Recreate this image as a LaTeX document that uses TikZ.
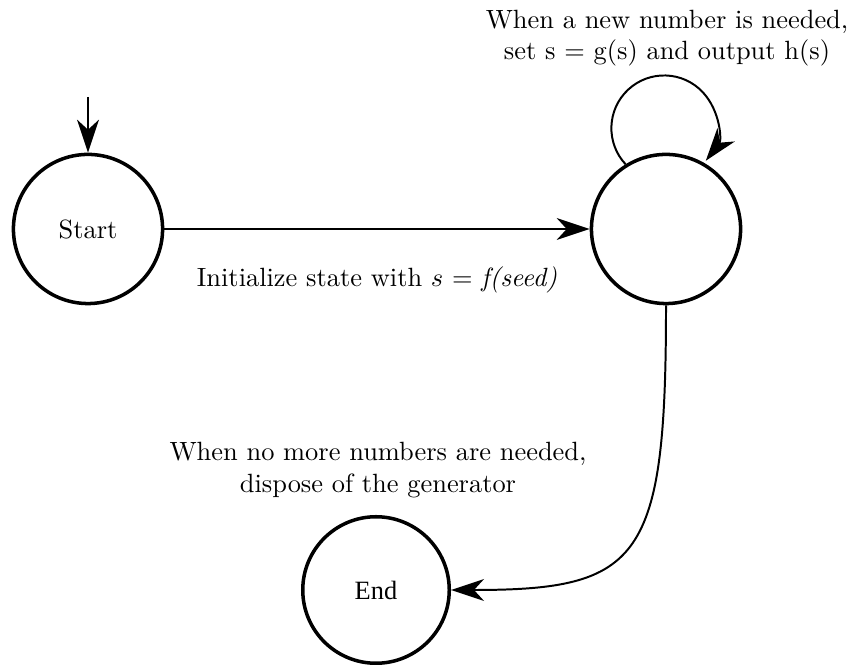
\documentclass[tikz,border=0pt]{standalone}
\usepackage{fontspec}
\newfontfamily\timesfont{Liberation Serif}
\usetikzlibrary{arrows.meta}
\begin{document}
\begin{tikzpicture}[x=0.3788pt,y=0.3788pt,
  state/.style={circle,draw,line width=1.33pt,minimum size=56.5pt,inner sep=0pt},
  conn/.style={line width=0.75pt,-{Stealth[length=12.5pt,width=8.3pt,inset=3.8pt]}},
  lbl/.style={align=center,inner sep=0pt}]
\useasboundingbox (0,0) rectangle (847,664);
\node[state] (start) at (88,435) {Start};
\node[state] (mid) at (666,435) {};
\node[state,minimum size=55.5pt] (end) at (376,74) {\timesfont End};
\coordinate (init) at (88,567);
\draw[conn] (init) -- (start.north);
\draw[conn] (start) -- (mid) node[lbl,pos=0.5,below=14pt] (l1) {Initialize state with $s$ = \textit{f(seed)}};
\draw[conn] (mid.122) arc[start angle=223, end angle=-38, radius=20pt];
\node[lbl] (l2) at (667,626) {When a new number is needed,\\set s = g(s) and output h(s)};
\draw[conn] (mid.south) .. controls +(0,-255) and +(190,0) .. (end.east);
\node[lbl] (l3) at (378,194) {When no more numbers are needed,\\dispose of the generator};
\end{tikzpicture}
\end{document}
